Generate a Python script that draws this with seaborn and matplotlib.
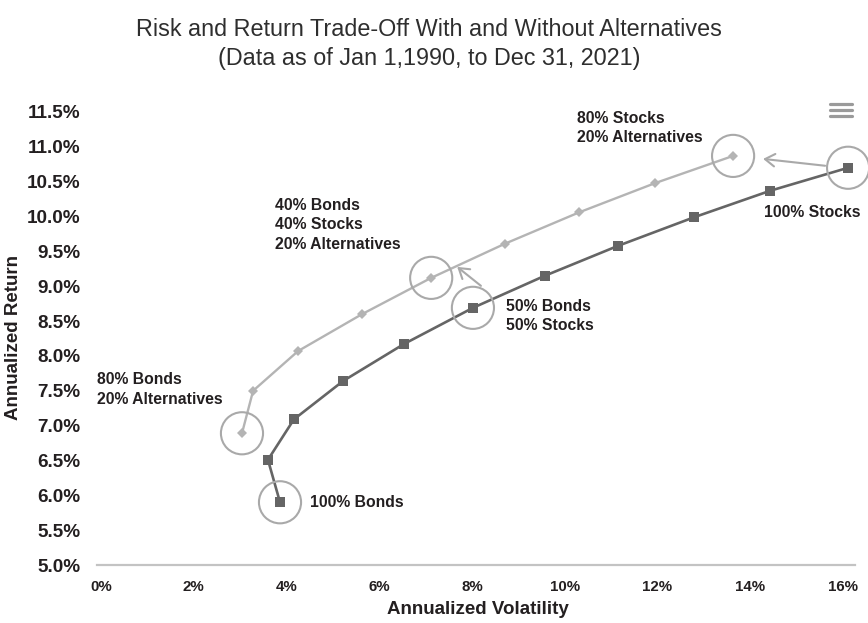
import numpy as np
import pandas as pd
import matplotlib
matplotlib.use("Agg")
import matplotlib.pyplot as plt
import seaborn as sns
from matplotlib.transforms import offset_copy
from matplotlib.lines import Line2D

# ---------------- data ----------------
no_alt_vol = [3.86, 3.60, 4.16, 5.22, 6.53, 8.02, 9.57, 11.15, 12.79, 14.43, 16.11]
no_alt_ret = [5.90, 6.51, 7.09, 7.64, 8.17, 8.69, 9.15, 9.58, 9.99, 10.37, 10.70]
alt_vol = [3.04, 3.28, 4.25, 5.63, 7.12, 8.71, 10.31, 11.95, 13.63]
alt_ret = [6.89, 7.50, 8.07, 8.60, 9.12, 9.61, 10.06, 10.48, 10.87]
x_ticks = [0, 2, 4, 6, 8, 10, 12, 14, 16]
y_ticks = [5.0, 5.5, 6.0, 6.5, 7.0, 7.5, 8.0, 8.5, 9.0, 9.5, 10.0, 10.5, 11.0, 11.5]
x_tick_labels = [f"{v}%" for v in x_ticks]
y_tick_labels = [f"{v:.1f}%" for v in y_ticks]
title_lines = ["Risk and Return Trade-Off With and Without Alternatives",
               "(Data as of Jan 1,1990, to Dec 31, 2021)"]
# highlighted portfolios: (series, index)
highlights = [("alt", 0), ("no", 0), ("alt", 4), ("no", 5), ("alt", 8), ("no", 10)]

df_no = pd.DataFrame({"vol": no_alt_vol, "ret": no_alt_ret})
df_alt = pd.DataFrame({"vol": alt_vol, "ret": alt_ret})

# ---------------- style ----------------
sns.set_style("white")
plt.rcParams["font.family"] = ["Liberation Sans", "DejaVu Sans"]
TXT = "#231f20"
DARK = "#656565"
LIGHT = "#b4b4b4"
CIRC = "#a9a9a9"

fig = plt.figure(figsize=(8.68, 6.23), dpi=100)
ax = fig.add_axes([97 / 868, 58 / 623, 758 / 868, 453 / 623])

sns.lineplot(data=df_alt, x="vol", y="ret", sort=False, estimator=None, ax=ax,
             color=LIGHT, linewidth=1.7, marker="D", markersize=4.6,
             markeredgewidth=0, markerfacecolor=LIGHT, zorder=3)
sns.lineplot(data=df_no, x="vol", y="ret", sort=False, estimator=None, ax=ax,
             color=DARK, linewidth=1.9, marker="s", markersize=7.2,
             markeredgewidth=0, markerfacecolor=DARK, zorder=4)

# circles around highlighted portfolios
hx = [(alt_vol if s == "alt" else no_alt_vol)[i] for s, i in highlights]
hy = [(alt_ret if s == "alt" else no_alt_ret)[i] for s, i in highlights]
sns.scatterplot(x=hx, y=hy, ax=ax, s=920, facecolor="none", edgecolor=CIRC,
                linewidth=1.5, zorder=5, clip_on=False)

ax.set_xlim(-4 / 46.375, 16 + 12 / 46.375)
ax.set_ylim(5.0, 11.5)
ax.set_xticks(x_ticks)
ax.set_xticklabels(x_tick_labels)
ax.set_yticks(y_ticks)
ax.set_yticklabels(y_tick_labels)
ax.tick_params(axis="x", length=0, pad=10.5, labelsize=10.8, labelcolor=TXT)
ax.tick_params(axis="y", length=0, pad=12, labelsize=13.6, labelcolor=TXT)
for lab in ax.get_xticklabels() + ax.get_yticklabels():
    lab.set_fontweight("bold")
for s in ["left", "right", "top"]:
    ax.spines[s].set_visible(False)
ax.spines["bottom"].set_color("#c3c3c3")
ax.spines["bottom"].set_linewidth(1.6)
ax.grid(False)
ax.set_xlabel("")
ax.set_ylabel("")

fig.text(478 / 868, 1 - 610 / 623, "Annualized Volatility", ha="center", va="center",
         fontsize=13.5, fontweight="bold", color=TXT)
fig.text(14 / 868, 1 - 337 / 623, "Annualized Return", ha="center", va="center",
         rotation=90, fontsize=13.5, fontweight="bold", color=TXT)

# title
fig.text(429 / 868, 1 - 30 / 623, title_lines[0], ha="center", va="center",
         fontsize=16.8, color="#2e2e2e")
fig.text(429 / 868, 1 - 58 / 623, title_lines[1], ha="center", va="center",
         fontsize=16.8, color="#2e2e2e")

# annotation labels
lab_kw = dict(fontsize=11.3, fontweight="bold", color=TXT, ha="left", va="center",
              linespacing=1.38, zorder=6)
ax.text(-0.086, 7.52, "80% Bonds\n20% Alternatives", **lab_kw)
ax.text(4.51, 5.90, "100% Bonds", **lab_kw)
ax.text(3.75, 9.88, "40% Bonds\n40% Stocks\n20% Alternatives", **lab_kw)
ax.text(8.73, 8.57, "50% Bonds\n50% Stocks", **lab_kw)
ax.text(10.26, 11.27, "80% Stocks\n20% Alternatives", **lab_kw)
ax.text(14.30, 10.06, "100% Stocks", **lab_kw, clip_on=False)

# arrows between highlighted portfolios
def arrow(src, dst, src_off, dst_off):
    ax.annotate("", xy=dst, xycoords=offset_copy(ax.transData, fig=fig, x=dst_off[0], y=dst_off[1], units="dots"),
                xytext=src, textcoords=offset_copy(ax.transData, fig=fig, x=src_off[0], y=src_off[1], units="dots"),
                arrowprops=dict(arrowstyle="->,head_length=0.7,head_width=0.45", color=CIRC,
                                lw=1.5, shrinkA=0, shrinkB=0), annotation_clip=False, zorder=5)

arrow((no_alt_vol[10], no_alt_ret[10]), (alt_vol[8], alt_ret[8]), (-23, 2), (30, -3))
arrow((no_alt_vol[5], no_alt_ret[5]), (alt_vol[4], alt_ret[4]), (8, 22), (26, 11))

# menu icon
for yy in (104, 110, 116):
    fig.add_artist(Line2D([830 / 868, 852 / 868], [1 - yy / 623, 1 - yy / 623],
                          color="#9a9a9a", lw=2.3, solid_capstyle="round"))

fig.savefig("out.png", dpi=100)
